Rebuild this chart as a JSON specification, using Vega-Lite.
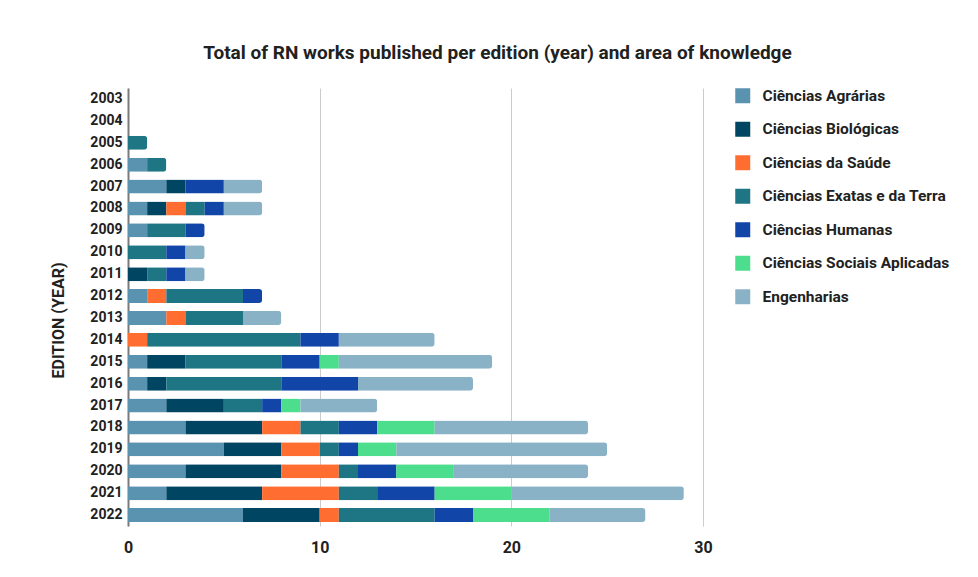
{
  "$schema": "https://vega.github.io/schema/vega-lite/v6.json",
  "autosize": {"type": "none"},
  "padding": {"left": 128, "top": 88, "right": 275, "bottom": 51},
  "width": 575,
  "height": 438,
  "background": "white",
  "title": {
    "text": "Total of RN works published per edition (year) and area of knowledge",
    "font": "Roboto",
    "fontSize": 19,
    "fontWeight": "bold",
    "color": "#212121",
    "anchor": "middle",
    "dx": 82,
    "offset": 25
  },
  "data": {
    "values": [
      {"year": "2005", "area": "Ciências Exatas e da Terra", "works": 1},
      {"year": "2006", "area": "Ciências Agrárias", "works": 1},
      {"year": "2006", "area": "Ciências Exatas e da Terra", "works": 1},
      {"year": "2007", "area": "Ciências Agrárias", "works": 2},
      {"year": "2007", "area": "Ciências Biológicas", "works": 1},
      {"year": "2007", "area": "Ciências Humanas", "works": 2},
      {"year": "2007", "area": "Engenharias", "works": 2},
      {"year": "2008", "area": "Ciências Agrárias", "works": 1},
      {"year": "2008", "area": "Ciências Biológicas", "works": 1},
      {"year": "2008", "area": "Ciências da Saúde", "works": 1},
      {"year": "2008", "area": "Ciências Exatas e da Terra", "works": 1},
      {"year": "2008", "area": "Ciências Humanas", "works": 1},
      {"year": "2008", "area": "Engenharias", "works": 2},
      {"year": "2009", "area": "Ciências Agrárias", "works": 1},
      {"year": "2009", "area": "Ciências Exatas e da Terra", "works": 2},
      {"year": "2009", "area": "Ciências Humanas", "works": 1},
      {"year": "2010", "area": "Ciências Exatas e da Terra", "works": 2},
      {"year": "2010", "area": "Ciências Humanas", "works": 1},
      {"year": "2010", "area": "Engenharias", "works": 1},
      {"year": "2011", "area": "Ciências Biológicas", "works": 1},
      {"year": "2011", "area": "Ciências Exatas e da Terra", "works": 1},
      {"year": "2011", "area": "Ciências Humanas", "works": 1},
      {"year": "2011", "area": "Engenharias", "works": 1},
      {"year": "2012", "area": "Ciências Agrárias", "works": 1},
      {"year": "2012", "area": "Ciências da Saúde", "works": 1},
      {"year": "2012", "area": "Ciências Exatas e da Terra", "works": 4},
      {"year": "2012", "area": "Ciências Humanas", "works": 1},
      {"year": "2013", "area": "Ciências Agrárias", "works": 2},
      {"year": "2013", "area": "Ciências da Saúde", "works": 1},
      {"year": "2013", "area": "Ciências Exatas e da Terra", "works": 3},
      {"year": "2013", "area": "Engenharias", "works": 2},
      {"year": "2014", "area": "Ciências da Saúde", "works": 1},
      {"year": "2014", "area": "Ciências Exatas e da Terra", "works": 8},
      {"year": "2014", "area": "Ciências Humanas", "works": 2},
      {"year": "2014", "area": "Engenharias", "works": 5},
      {"year": "2015", "area": "Ciências Agrárias", "works": 1},
      {"year": "2015", "area": "Ciências Biológicas", "works": 2},
      {"year": "2015", "area": "Ciências Exatas e da Terra", "works": 5},
      {"year": "2015", "area": "Ciências Humanas", "works": 2},
      {"year": "2015", "area": "Ciências Sociais Aplicadas", "works": 1},
      {"year": "2015", "area": "Engenharias", "works": 8},
      {"year": "2016", "area": "Ciências Agrárias", "works": 1},
      {"year": "2016", "area": "Ciências Biológicas", "works": 1},
      {"year": "2016", "area": "Ciências Exatas e da Terra", "works": 6},
      {"year": "2016", "area": "Ciências Humanas", "works": 4},
      {"year": "2016", "area": "Engenharias", "works": 6},
      {"year": "2017", "area": "Ciências Agrárias", "works": 2},
      {"year": "2017", "area": "Ciências Biológicas", "works": 3},
      {"year": "2017", "area": "Ciências Exatas e da Terra", "works": 2},
      {"year": "2017", "area": "Ciências Humanas", "works": 1},
      {"year": "2017", "area": "Ciências Sociais Aplicadas", "works": 1},
      {"year": "2017", "area": "Engenharias", "works": 4},
      {"year": "2018", "area": "Ciências Agrárias", "works": 3},
      {"year": "2018", "area": "Ciências Biológicas", "works": 4},
      {"year": "2018", "area": "Ciências da Saúde", "works": 2},
      {"year": "2018", "area": "Ciências Exatas e da Terra", "works": 2},
      {"year": "2018", "area": "Ciências Humanas", "works": 2},
      {"year": "2018", "area": "Ciências Sociais Aplicadas", "works": 3},
      {"year": "2018", "area": "Engenharias", "works": 8},
      {"year": "2019", "area": "Ciências Agrárias", "works": 5},
      {"year": "2019", "area": "Ciências Biológicas", "works": 3},
      {"year": "2019", "area": "Ciências da Saúde", "works": 2},
      {"year": "2019", "area": "Ciências Exatas e da Terra", "works": 1},
      {"year": "2019", "area": "Ciências Humanas", "works": 1},
      {"year": "2019", "area": "Ciências Sociais Aplicadas", "works": 2},
      {"year": "2019", "area": "Engenharias", "works": 11},
      {"year": "2020", "area": "Ciências Agrárias", "works": 3},
      {"year": "2020", "area": "Ciências Biológicas", "works": 5},
      {"year": "2020", "area": "Ciências da Saúde", "works": 3},
      {"year": "2020", "area": "Ciências Exatas e da Terra", "works": 1},
      {"year": "2020", "area": "Ciências Humanas", "works": 2},
      {"year": "2020", "area": "Ciências Sociais Aplicadas", "works": 3},
      {"year": "2020", "area": "Engenharias", "works": 7},
      {"year": "2021", "area": "Ciências Agrárias", "works": 2},
      {"year": "2021", "area": "Ciências Biológicas", "works": 5},
      {"year": "2021", "area": "Ciências da Saúde", "works": 4},
      {"year": "2021", "area": "Ciências Exatas e da Terra", "works": 2},
      {"year": "2021", "area": "Ciências Humanas", "works": 3},
      {"year": "2021", "area": "Ciências Sociais Aplicadas", "works": 4},
      {"year": "2021", "area": "Engenharias", "works": 9},
      {"year": "2022", "area": "Ciências Agrárias", "works": 6},
      {"year": "2022", "area": "Ciências Biológicas", "works": 4},
      {"year": "2022", "area": "Ciências da Saúde", "works": 1},
      {"year": "2022", "area": "Ciências Exatas e da Terra", "works": 5},
      {"year": "2022", "area": "Ciências Humanas", "works": 2},
      {"year": "2022", "area": "Ciências Sociais Aplicadas", "works": 4},
      {"year": "2022", "area": "Engenharias", "works": 5}
    ]
  },
  "transform": [
    {
      "calculate": "indexof(['Ciências Agrárias', 'Ciências Biológicas', 'Ciências da Saúde', 'Ciências Exatas e da Terra', 'Ciências Humanas', 'Ciências Sociais Aplicadas', 'Engenharias'], datum.area)",
      "as": "area_rank"
    }
  ],
  "mark": {"type": "bar", "cornerRadiusEnd": 3},
  "encoding": {
    "y": {
      "field": "year",
      "type": "ordinal",
      "scale": {
        "domain": ["2003", "2004", "2005", "2006", "2007", "2008", "2009", "2010", "2011", "2012", "2013", "2014", "2015", "2016", "2017", "2018", "2019", "2020", "2021", "2022"],
        "paddingInner": 0.36,
        "paddingOuter": 0.18
      },
      "axis": {
        "title": "EDITION (YEAR)",
        "titleFont": "Roboto",
        "titleFontSize": 16,
        "titleFontWeight": "bold",
        "titleColor": "#212121",
        "titlePadding": 23,
        "titleY": 232,
        "labelFont": "Roboto",
        "labelFontSize": 14,
        "labelFontWeight": "bold",
        "labelColor": "#212121",
        "labelPadding": 6,
        "ticks": false,
        "grid": false,
        "domain": true,
        "domainColor": "#7a7a7a",
        "domainWidth": 2
      }
    },
    "x": {
      "field": "works",
      "type": "quantitative",
      "aggregate": "sum",
      "stack": "zero",
      "scale": {"domain": [0, 30], "nice": false},
      "axis": {
        "title": null,
        "values": [0, 10, 20, 30],
        "labelFont": "Roboto",
        "labelFontSize": 16,
        "labelFontWeight": "bold",
        "labelColor": "#212121",
        "labelPadding": 13,
        "labelFlush": false,
        "ticks": false,
        "domain": false,
        "grid": true,
        "gridColor": "#cccccc",
        "gridWidth": 1
      }
    },
    "order": {"field": "area_rank", "type": "quantitative", "sort": "ascending"},
    "color": {
      "field": "area",
      "type": "nominal",
      "scale": {
        "domain": ["Ciências Agrárias", "Ciências Biológicas", "Ciências da Saúde", "Ciências Exatas e da Terra", "Ciências Humanas", "Ciências Sociais Aplicadas", "Engenharias"],
        "range": ["#5a93b0", "#004662", "#ff6d31", "#1e7584", "#1245a8", "#4cde8c", "#8ab2c7"]
      },
      "legend": {
        "title": null,
        "orient": "right",
        "offset": 32,
        "padding": 0,
        "symbolType": "square",
        "symbolSize": 225,
        "symbolStrokeWidth": 0,
        "rowPadding": 16.5,
        "labelOffset": 12,
        "labelFont": "Roboto",
        "labelFontSize": 15.5,
        "labelFontWeight": "bold",
        "labelColor": "#212121",
        "labelLimit": 300
      }
    }
  },
  "config": {
    "view": {"stroke": null}
  }
}
